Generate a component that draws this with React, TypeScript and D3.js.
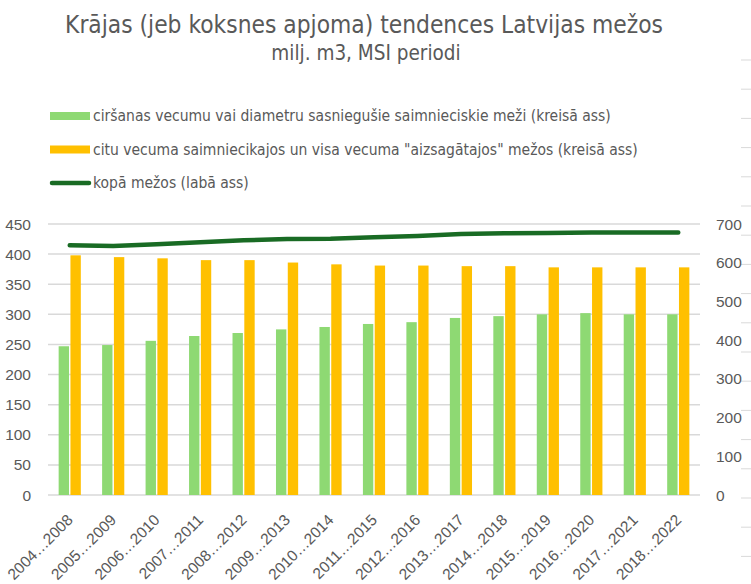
import React from 'react';
import * as d3 from 'd3';

const categories = [
  '2004…2008', '2005…2009', '2006…2010', '2007…2011', '2008…2012',
  '2009…2013', '2010…2014', '2011…2015', '2012…2016', '2013…2017',
  '2014…2018', '2015…2019', '2016…2020', '2017…2021', '2018…2022',
];
// ciršanas vecumu vai diametru sasniegušie saimnieciskie meži (kreisā ass)
const matureStock = [247, 249, 256, 264, 269, 275, 279, 284, 287, 294, 297, 300, 302, 300, 300];
// citu vecuma saimniecikajos un visa vecuma "aizsagātajos" mežos (kreisā ass)
const otherStock = [398, 395, 393, 390, 390, 386, 383, 381, 381, 380, 380, 378, 378, 378, 378];
// kopā mežos (labā ass)
const totalStock = [645, 643, 648, 653, 658, 661, 662, 666, 669, 674, 676, 677, 678, 678, 678];

const leftDomain = [0, 450];
const rightDomain = [0, 700];

const legendItems = [
  { label: 'ciršanas vecumu vai diametru sasniegušie saimnieciskie meži (kreisā ass)', kind: 'bar', color: '#8ED973' },
  { label: 'citu vecuma saimniecikajos un visa vecuma "aizsagātajos" mežos (kreisā ass)', kind: 'bar', color: '#FFC000' },
  { label: 'kopā mežos (labā ass)', kind: 'line', color: '#196B24' },
];

const W = 751;
const H = 584;
const plot = { left: 48, right: 700, top: 224, bottom: 495 };
const textColor = '#595959';
const gridColor = '#d9d9d9';
const narrow = "'Liberation Sans Narrow', 'DejaVu Sans Condensed', 'Roboto Condensed', sans-serif";
const axisFont = "'Liberation Sans', Arial, sans-serif";

export default function App() {
  const x = d3
    .scaleBand<string>()
    .domain(categories)
    .range([plot.left, plot.right])
    .paddingInner(0.49)
    .paddingOuter(0.245);
  const sub = d3
    .scaleBand<string>()
    .domain(['mature', 'other'])
    .range([0, x.bandwidth()])
    .paddingInner(0.12);
  const yLeft = d3.scaleLinear().domain(leftDomain).range([plot.bottom, plot.top]);
  const yRight = d3.scaleLinear().domain(rightDomain).range([plot.bottom, plot.top]);

  const line = d3
    .line<number>()
    .x((_, i) => (x(categories[i]) ?? 0) + x.bandwidth() / 2)
    .y((d) => yRight(d));

  // faint cell-border ticks along the right edge of the sheet
  const edgeTicks = d3.range(18).map((i) => 60 + i * 29.2);

  return (
    <svg
      width={W}
      height={H}
      style={{ position: 'absolute', left: 0, top: 0, background: '#fff' }}
    >
      <rect width={W} height={H} fill="#fff" />
      {edgeTicks.map((y, i) => (
        <line key={i} x1={741} x2={751} y1={y} y2={y} stroke={gridColor} strokeWidth={1} />
      ))}

      <text x={364} y={33} textAnchor="middle" fontFamily={narrow} fontSize={24.3} fill={textColor}>
        Krājas (jeb koksnes apjoma) tendences Latvijas mežos
      </text>
      <text x={366} y={60} textAnchor="middle" fontFamily={narrow} fontSize={20.5} fill={textColor}>
        milj. m3, MSI periodi
      </text>

      {legendItems.map((item, i) => {
        const cy = 116 + i * 33.5;
        return (
          <g key={item.label}>
            {item.kind === 'bar' ? (
              <rect x={50} y={cy - 4} width={40} height={8} fill={item.color} />
            ) : (
              <line x1={52} x2={89} y1={cy} y2={cy} stroke={item.color} strokeWidth={4.5} strokeLinecap="round" />
            )}
            <text x={93} y={cy} dominantBaseline="central" fontFamily={narrow} fontSize={15.5} fill={textColor}>
              {item.label}
            </text>
          </g>
        );
      })}

      {yLeft.ticks(9).map((t) => (
        <g key={t}>
          <line x1={plot.left} x2={plot.right} y1={yLeft(t)} y2={yLeft(t)} stroke={gridColor} strokeWidth={1.5} />
          <text x={31} y={yLeft(t)} dy="0.36em" textAnchor="end" fontFamily={axisFont} fontSize={15.5} fill={textColor}>
            {t}
          </text>
        </g>
      ))}
      {yRight.ticks(7).map((t) => (
        <text key={t} x={716} y={yRight(t)} dy="0.36em" textAnchor="start" fontFamily={axisFont} fontSize={15.5} fill={textColor}>
          {t}
        </text>
      ))}

      {categories.map((c, i) => {
        const x0 = x(c) ?? 0;
        return (
          <g key={c}>
            <rect
              x={x0 + (sub('mature') ?? 0)}
              y={yLeft(matureStock[i])}
              width={sub.bandwidth()}
              height={yLeft(0) - yLeft(matureStock[i])}
              fill="#8ED973"
            />
            <rect
              x={x0 + (sub('other') ?? 0)}
              y={yLeft(otherStock[i])}
              width={sub.bandwidth()}
              height={yLeft(0) - yLeft(otherStock[i])}
              fill="#FFC000"
            />
            <text
              transform={`translate(${x0 + x.bandwidth() / 2 + 4},${plot.bottom + 26}) rotate(-45)`}
              textAnchor="end"
              fontFamily={axisFont}
              fontSize={15.5}
              fill={textColor}
            >
              {c}
            </text>
          </g>
        );
      })}

      <path
        d={line(totalStock) ?? ''}
        fill="none"
        stroke="#196B24"
        strokeWidth={4.5}
        strokeLinecap="round"
        strokeLinejoin="round"
      />
    </svg>
  );
}
